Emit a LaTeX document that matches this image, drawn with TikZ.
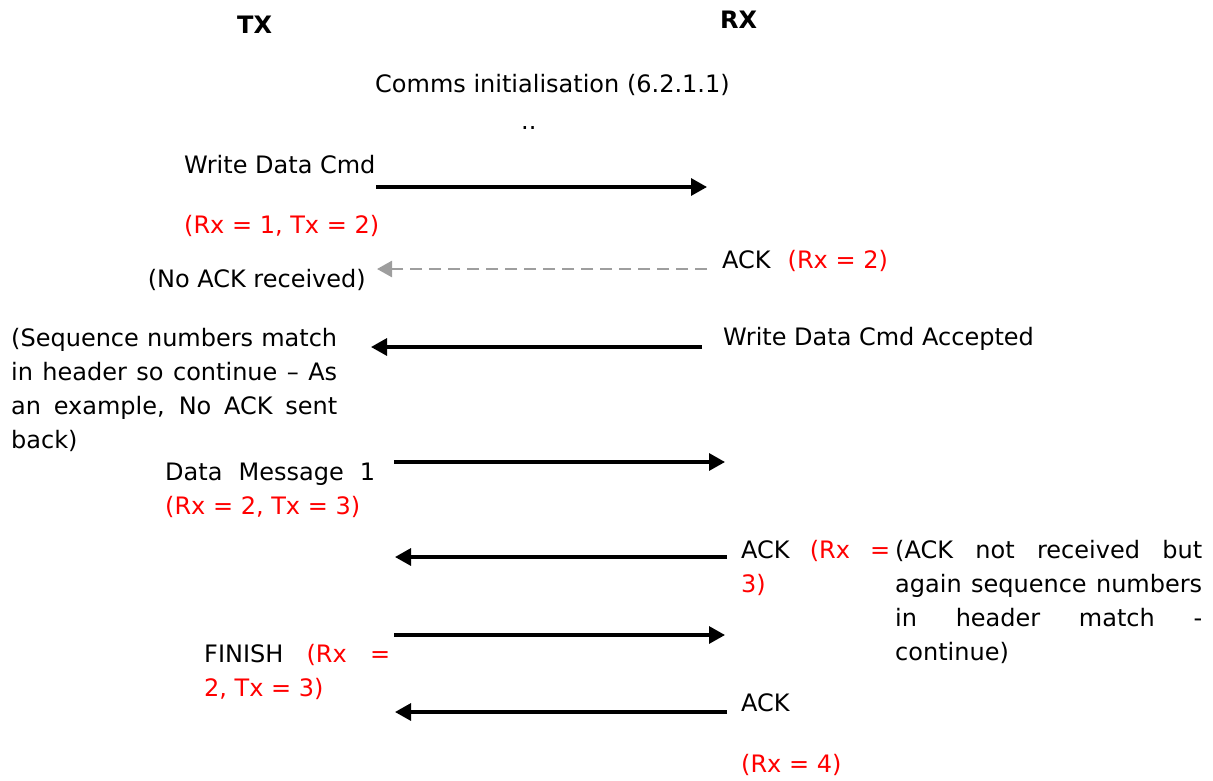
\documentclass[tikz,border=0pt]{standalone}
\usepackage{fontspec}
\setmainfont{DejaVu Sans}
\usetikzlibrary{arrows.meta}
\definecolor{seqred}{RGB}{255,0,0}
\definecolor{seqgrey}{RGB}{158,158,158}
\newcommand{\seqfont}{\fontsize{24}{34}\selectfont}
\newcommand{\seqval}[1]{{\color{seqred}#1}}
\newcommand{\seqline}[2]{\makebox[#1][s]{#2}}
\tikzset{
    seq/chart/.style={x=1pt, y=-1pt, font=\seqfont, every node/.style={inner sep=0pt, anchor=base west}},
    seq/side/.style={font=\seqfont\bfseries},
    seq/arrow/.style={-{Triangle[length=16pt,width=17pt]}, line width=3.2pt, draw=black},
    seq/lost/.style={-{Triangle[length=15pt,width=16pt]}, line width=2.6pt, draw=seqgrey, dash pattern=on 12pt off 7pt}
}
\begin{document}
\begin{tikzpicture}[seq/chart]
    \useasboundingbox (0,0) rectangle (1213,780);
    \node[seq/side] (tx) at (237,33) {TX};
    \node[seq/side] (rx) at (720,28) {RX};
    \node (init) at (375,92) {Comms initialisation (6.2.1.1)};
    \node (dots) at (521,129) {..};
    \node (wcmd) at (184,173) {Write Data Cmd};
    \node (wcmdseq) at (184,233) {\seqval{(Rx = 1, Tx = 2)}};
    \node[anchor=base east] (noack) at (366,287) {(No ACK received)};
    \node (ackone) at (722,268) {ACK\hspace{17pt}\seqval{(Rx = 2)}};
    \node (accepted) at (723,345) {Write Data Cmd Accepted};
    \node (match) at (11,346) {\parbox[t]{326pt}{\seqline{326pt}{(Sequence numbers match}\\\seqline{326pt}{in header so continue -- As}\\\seqline{326pt}{an example, No ACK sent}\\back)}};
    \node (datamsg) at (165,480) {\parbox[t]{210pt}{\seqline{210pt}{Data Message 1}\\\seqval{(Rx = 2, Tx = 3)}}};
    \node (acktwo) at (741,558) {\parbox[t]{149pt}{\seqline{149pt}{ACK \seqval{(Rx =}}\\\seqval{3)}}};
    \node (notrecv) at (895,558) {\parbox[t]{307pt}{\seqline{307pt}{(ACK not received but}\\\seqline{307pt}{again sequence numbers}\\\seqline{307pt}{in header match -}\\continue)}};
    \node (finish) at (204,662) {\parbox[t]{186pt}{\seqline{186pt}{FINISH \seqval{(Rx =}}\\\seqval{2, Tx = 3)}}};
    \node (ackthree) at (741,711) {ACK};
    \node (ackthreeseq) at (741,772) {\seqval{(Rx = 4)}};
    \coordinate (tx1) at (376,187);
    \coordinate (rx1) at (707,187);
    \coordinate (rx2) at (707,269);
    \coordinate (tx2) at (377,269);
    \coordinate (rx3) at (702,347);
    \coordinate (tx3) at (371,347);
    \coordinate (tx4) at (394,462);
    \coordinate (rx4) at (725,462);
    \coordinate (rx5) at (727,557);
    \coordinate (tx5) at (395,557);
    \coordinate (tx6) at (394,635);
    \coordinate (rx6) at (725,635);
    \coordinate (rx7) at (727,712);
    \coordinate (tx7) at (395,712);
    \foreach \source/\target in {tx1/rx1,rx3/tx3,tx4/rx4,rx5/tx5,tx6/rx6,rx7/tx7}
        \draw[seq/arrow] (\source) -- (\target);
    \draw[seq/lost] (rx2) -- (tx2);
\end{tikzpicture}
\end{document}
